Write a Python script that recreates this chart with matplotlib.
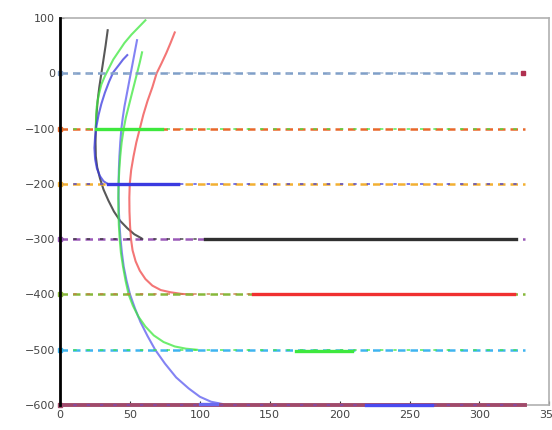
import matplotlib.pyplot as plt
import numpy as np

# Reference levels drawn as dashed lines
levels = [0, -100, -200, -300, -400, -500, -600]
level_colors = ['#7f9fc8', '#e8682a', '#f2b033', '#9a5ab8', '#86b83a', '#3fb4f0', '#a04a6a']
overlay_colors = ['#a0b4d0', '#3ee83e', '#3a3ae0', '#303030', '#c87a44', '#3ee83e', '#7a4ab8']
level_x_end = 333

# Trajectories (x, y) approaching each level
black_x = [34, 32.5, 31, 29.5, 28, 26.8, 26, 25.5, 25.3, 25.5, 26.5, 28.5, 31, 34.5, 38.5, 43, 48, 53, 58]
black_y = [78, 50, 25, 0, -25, -50, -75, -100, -125, -150, -170, -190, -210, -230, -250, -267, -280, -291, -298]

green1_x = [61, 56, 51, 46, 42, 38, 35, 32, 29.5, 27.5, 26.2, 25.7, 25.5]
green1_y = [96, 83, 70, 55, 40, 25, 10, -5, -20, -40, -60, -80, -98]

blue1_x = [48, 45, 42, 38, 35, 32, 29.5, 27.5, 26, 25, 24.5, 25, 26.3, 28.5, 31, 34]
blue1_y = [33, 25, 15, 2, -15, -35, -55, -75, -95, -115, -135, -155, -172, -186, -195, -200]

blue2_x = [55, 53.5, 52, 50.5, 49, 47.5, 46, 44.8, 43.8, 43, 42.4, 42, 41.8, 41.8, 42, 42.5,
           43.2, 44.2, 45.5, 47.5, 50, 53.5, 57.5, 62.5, 68, 75, 83, 92, 100, 108, 116]
blue2_y = [60, 40, 20, 0, -20, -40, -60, -80, -100, -125, -150, -175, -200, -225, -250, -275,
           -300, -325, -350, -375, -400, -425, -450, -475, -500, -525, -550, -570, -585, -594, -598]

green2_x = [58.6, 57, 55, 53, 51, 49, 47, 45.5, 44, 43, 42.3, 41.8, 41.6, 41.7, 42, 42.6,
            43.5, 45, 46.8, 49, 52, 56, 61, 67, 74, 82, 90, 98]
green2_y = [38, 20, 0, -20, -40, -60, -80, -100, -125, -150, -175, -200, -225, -250, -275, -300,
            -325, -350, -375, -400, -420, -440, -458, -474, -486, -494, -498, -500]

red_x = [82, 79, 76, 72.5, 69, 66, 62.5, 59.5, 57, 54.5, 52.5, 50.8, 49.8, 49.5, 49.6, 50,
         50.7, 51.8, 54, 57, 61, 66, 72, 79, 87, 95]
red_y = [74, 55, 37, 18, 0, -25, -50, -75, -100, -125, -150, -175, -200, -225, -250, -275,
         -300, -320, -340, -357, -372, -384, -392, -396, -399, -400]

# Solid segments lying on the levels
seg_x = [(26, 73), (34, 84), (104, 326), (138, 325), (169, 209), (219, 266), (100, 112)]
seg_y = [-100, -200, -300, -400, -502, -600, -598]
seg_colors = ['#3ee83e', '#3a3ae0', '#303030', '#f03030', '#3ee83e', '#4a4af0', '#6a6af0']

fig = plt.figure(figsize=(5.52, 4.30), dpi=100)
ax = fig.add_axes([0.109, 0.058, 0.886, 0.9])

for lvl, c1, c2 in zip(levels, level_colors, overlay_colors):
    if lvl == -600:
        # bottom level is drawn almost solid
        ax.plot([0, level_x_end], [lvl, lvl], color=c1, lw=2.8, zorder=6, clip_on=False)
    else:
        ax.plot([0, level_x_end], [lvl, lvl], color=c1, lw=1.8, dashes=(3, 2), zorder=6, clip_on=False)
    ax.plot([0, level_x_end - 5], [lvl, lvl], color=c2, lw=1.2, dashes=(2, 6), alpha=0.8,
            zorder=6, clip_on=False)
    ax.plot(0, lvl, marker='s', ms=3, color=c1, zorder=7, clip_on=False)

ax.plot(331, 0, marker='s', ms=3.5, color='#b03050', zorder=7)

curves = [(black_x, black_y, '#202020'), (green1_x, green1_y, '#3ee83e'),
          (blue1_x, blue1_y, '#3a3ae0'), (blue2_x, blue2_y, '#5a5af0'),
          (green2_x, green2_y, '#3ee83e'), (red_x, red_y, '#f04848')]
for cx, cy, c in curves:
    ax.plot(cx, cy, color=c, lw=1.5, alpha=0.75, zorder=4)

for (x0, x1), y, c in zip(seg_x, seg_y, seg_colors):
    ax.plot([x0, x1], [y, y], color=c, lw=2.4, zorder=8, clip_on=False)

ax.set_xlim(0, 350)
ax.set_ylim(-600, 100)
ax.set_xticks(np.arange(0, 351, 50))
ax.set_yticks(np.arange(-600, 101, 100))
ax.tick_params(direction='in', length=3, labelsize=8, colors='#333333', labelcolor='#444444')

for side in ['top', 'right', 'bottom']:
    ax.spines[side].set_color('#b0b0b0')
    ax.spines[side].set_linewidth(1.2)
ax.spines['left'].set_color('black')
ax.spines['left'].set_linewidth(2)
ax.spines['left'].set_zorder(9)

fig.savefig('out.png', dpi=100)
